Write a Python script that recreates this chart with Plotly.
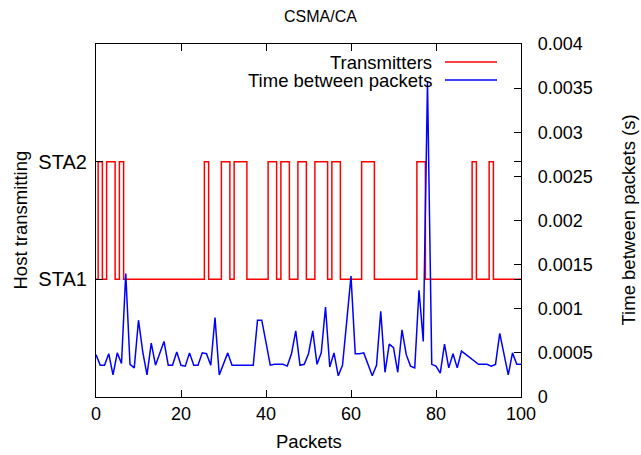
import plotly.graph_objects as go

packets = list(range(0, 101))

# Host transmitting per packet (1 = STA1, 2 = STA2)
host = [
    1, 2, 1, 2, 2, 1, 2, 1, 1, 1,
    1, 1, 1, 1, 1, 1, 1, 1, 1, 1,
    1, 1, 1, 1, 1, 1, 2, 1, 1, 1,
    2, 2, 1, 2, 2, 2, 1, 1, 1, 1,
    1, 2, 2, 1, 2, 2, 1, 1, 2, 2,
    1, 1, 2, 2, 2, 1, 2, 2, 1, 1,
    1, 1, 1, 2, 2, 2, 1, 1, 1, 1,
    1, 1, 1, 1, 1, 1, 2, 2, 1, 1,
    1, 1, 1, 1, 1, 1, 1, 1, 1, 2,
    1, 1, 1, 2, 1, 1, 1, 1, 1, 1,
    1,
]

# Time between packets (s)
gap = [
    0.00048, 0.00036, 0.00036, 0.00049, 0.00025, 0.00050, 0.00038, 0.00140, 0.00037, 0.00033,
    0.00087, 0.00051, 0.00025, 0.00061, 0.00036, 0.00050, 0.00063, 0.00036, 0.00036, 0.00051,
    0.00036, 0.00035, 0.00050, 0.00036, 0.00036, 0.00050, 0.00049, 0.00036, 0.00090, 0.00025,
    0.00037, 0.00050, 0.00036, 0.00036, 0.00036, 0.00036, 0.00036, 0.00036, 0.00087, 0.00087,
    0.00062, 0.00036, 0.00037, 0.00037, 0.00037, 0.00035, 0.00049, 0.00075, 0.00036, 0.00037,
    0.00049, 0.00075, 0.00037, 0.00050, 0.00102, 0.00034, 0.00050, 0.00024, 0.00036, 0.00086,
    0.00137, 0.00049, 0.00049, 0.00050, 0.00038, 0.00024, 0.00036, 0.00097, 0.00028, 0.00060,
    0.00056, 0.00028, 0.00076, 0.00048, 0.00035, 0.00033, 0.00121, 0.00063, 0.00357, 0.00037,
    0.00035, 0.00027, 0.00060, 0.00033, 0.00049, 0.00033, 0.00052, 0.00048, 0.00045, 0.00041,
    0.00037, 0.00037, 0.00037, 0.00035, 0.00037, 0.00072, 0.00048, 0.00025, 0.00050, 0.00037,
    0.00037,
]

host_tickvals = [1, 2]
host_ticktext = ["STA1", "STA2"]
x_ticks = [0, 20, 40, 60, 80, 100]
y2_tickvals = [0, 0.0005, 0.001, 0.0015, 0.002, 0.0025, 0.003, 0.0035, 0.004]
y2_ticktext = ["0", "0.0005", "0.001", "0.0015", "0.002", "0.0025", "0.003", "0.0035", "0.004"]

FONT = "Liberation Sans"
FS_TICK = 18
FS_TEXT = 18.5

fig = go.Figure()
fig.add_trace(go.Scatter(
    x=packets, y=host, mode="lines", line=dict(color="#ff0000", width=1.5, shape="hvh"),
    name="Transmitters", yaxis="y", showlegend=False,
))
fig.add_trace(go.Scatter(
    x=packets, y=gap, mode="lines", line=dict(color="#0000ff", width=1.5),
    name="Time between packets", yaxis="y2", showlegend=False,
))

axis_common = dict(
    showline=True, linecolor="black", linewidth=1.2, showgrid=False, zeroline=False,
    ticks="inside", ticklen=7, tickcolor="black", tickwidth=1, automargin=False,
)

fig.update_layout(
    width=641, height=455,
    margin=dict(l=96, r=120, t=44, b=58, autoexpand=False),
    paper_bgcolor="white", plot_bgcolor="white",
    font=dict(family=FONT, size=FS_TEXT, color="black"),
    title=dict(text="CSMA/CA", x=0.5, xref="container", xanchor="center", y=1 - 16 / 455,
               yref="container", yanchor="middle", font=dict(family=FONT, size=16, color="black")),
    xaxis=dict(range=[0, 100], tickvals=x_ticks, mirror="ticks",
               tickfont=dict(family=FONT, size=FS_TICK, color="black"), **axis_common),
    yaxis=dict(range=[0, 3], tickvals=host_tickvals, ticktext=host_ticktext, mirror="ticks",
               ticklabelstandoff=4, tickfont=dict(family=FONT, size=20, color="black"),
               **axis_common),
    yaxis2=dict(range=[0, 0.004], tickvals=y2_tickvals, ticktext=y2_ticktext, overlaying="y",
                side="right", ticklabelstandoff=12,
                tickfont=dict(family=FONT, size=FS_TICK, color="black"), **axis_common),
    showlegend=False,
)

ann = [
    dict(text="Packets", x=0.5, y=-(441 - 397) / 353, xref="paper", yref="paper",
         showarrow=False, xanchor="center", yanchor="middle"),
    dict(text="Host transmitting", x=(20 - 96) / 425, y=0.5, xref="paper", yref="paper",
         showarrow=False, textangle=-90, xanchor="center", yanchor="middle"),
    dict(text="Time between packets (s)", x=(628 - 96) / 425, y=0.5, xref="paper", yref="paper",
         showarrow=False, textangle=-90, xanchor="center", yanchor="middle"),
    dict(text="Transmitters", x=(434 - 96) / 425, y=(397 - 62) / 353, xref="paper", yref="paper",
         showarrow=False, xanchor="right", yanchor="middle"),
    dict(text="Time between packets", x=(434 - 96) / 425, y=(397 - 80) / 353, xref="paper",
         yref="paper", showarrow=False, xanchor="right", yanchor="middle"),
]
fig.update_layout(annotations=ann)

legend_colors = ["#ff0000", "#0000ff"]
legend_rows = [62, 80]
for c, row in zip(legend_colors, legend_rows):
    fig.add_shape(type="line", xref="paper", yref="paper",
                  x0=(445 - 96) / 425, x1=(497 - 96) / 425,
                  y0=(397 - row) / 353, y1=(397 - row) / 353,
                  line=dict(color=c, width=1.5))

fig.write_html("out.html", config={"displayModeBar": False},
               post_script="document.body.style.margin='0px';")
